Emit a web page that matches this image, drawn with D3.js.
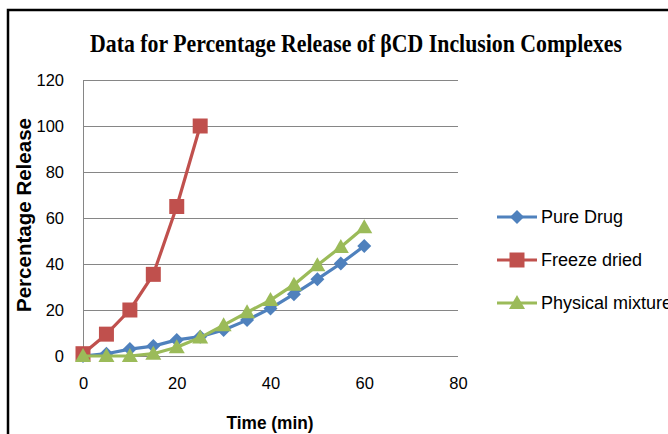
<!DOCTYPE html>
<html>
<head>
<meta charset="utf-8">
<script src="https://cdn.jsdelivr.net/npm/d3@7"></script>
<style>
  html, body { margin: 0; padding: 0; background: #fff; }
  svg { display: block; }
</style>
</head>
<body>
<div id="chart"></div>
<script>
const times = [0, 5, 10, 15, 20, 25, 30, 35, 40, 45, 50, 55, 60];
const pureDrug = [0, 1, 3, 4.3, 7, 8.4, 11.3, 15.6, 20.7, 26.9, 33.4, 40.2, 47.8];
const freezeDried = [1, 9.5, 20, 35.5, 65, 100];
const physicalMixture = [0, 0, 0, 1, 3.8, 8, 13.4, 19, 24.3, 31, 39.5, 47.4, 56];
const seriesNames = ["Pure Drug", "Freeze dried", "Physical mixture"];
const xTicks = [0, 20, 40, 60, 80];
const yTicks = [0, 20, 40, 60, 80, 100, 120];
const titleText = "Data for Percentage Release of \u03B2CD Inclusion Complexes";
const xTitle = "Time (min)";
const yTitle = "Percentage Release";

const W = 668, H = 434;
const svg = d3.select("#chart").append("svg").attr("width", W).attr("height", H);

// outer frame
svg.append("rect").attr("x", 8).attr("y", 10).attr("width", 800).attr("height", 600)
  .attr("fill", "none").attr("stroke", "#000").attr("stroke-width", 2.5);

const x = d3.scaleLinear().domain([0, 80]).range([83, 458]);
const y = d3.scaleLinear().domain([0, 120]).range([356, 80]);

// title
svg.append("text").attr("x", 356).attr("y", 52).attr("text-anchor", "middle")
  .attr("font-family", "Liberation Serif").attr("font-weight", "bold").attr("font-size", 25)
  .attr("textLength", 532).attr("lengthAdjust", "spacingAndGlyphs")
  .attr("fill", "#000").text(titleText);

// gridlines
svg.append("g").selectAll("line").data(yTicks).join("line")
  .attr("x1", x(0)).attr("x2", x(80))
  .attr("y1", d => Math.round(y(d)) + 0.5).attr("y2", d => Math.round(y(d)) + 0.5)
  .attr("stroke", "#868686").attr("stroke-width", 1);

// y axis line
svg.append("line").attr("x1", x(0) + 0.5).attr("x2", x(0) + 0.5).attr("y1", y(120)).attr("y2", y(0) + 1)
  .attr("stroke", "#868686").attr("stroke-width", 1);

// y tick labels
const yAxis = d3.axisLeft(y).tickValues(yTicks).tickSize(0).tickPadding(0);
const gy = svg.append("g").attr("transform", "translate(64,0)").call(yAxis);
gy.select(".domain").remove();
gy.selectAll("text").attr("font-family", "Liberation Sans").attr("font-size", 16.5).attr("fill", "#000")
  .attr("dy", "0.36em").attr("x", 0);

// x tick labels
const xAxis = d3.axisBottom(x).tickValues(xTicks).tickSize(0).tickPadding(0);
const gx = svg.append("g").attr("transform", "translate(0,383)").call(xAxis);
gx.select(".domain").remove();
gx.selectAll("text").attr("font-family", "Liberation Sans").attr("font-size", 16.5).attr("fill", "#000")
  .attr("dy", "0.36em").attr("y", 0);

// axis titles
svg.append("text").attr("x", 270).attr("y", 429).attr("text-anchor", "middle")
  .attr("font-family", "Liberation Sans").attr("font-weight", "bold").attr("font-size", 18)
  .attr("textLength", 87).attr("lengthAdjust", "spacingAndGlyphs").text(xTitle);
svg.append("text").attr("transform", "translate(31,215) rotate(-90)").attr("text-anchor", "middle")
  .attr("font-family", "Liberation Sans").attr("font-weight", "bold").attr("font-size", 21)
  .attr("textLength", 194).attr("lengthAdjust", "spacingAndGlyphs").text(yTitle);

const colors = ["#4F81BD", "#C0504D", "#9BBB59"];
const series = [
  { name: seriesNames[0], values: pureDrug, color: colors[0], shape: "diamond" },
  { name: seriesNames[1], values: freezeDried, color: colors[1], shape: "square" },
  { name: seriesNames[2], values: physicalMixture, color: colors[2], shape: "triangle" }
];

function markerPath(shape) {
  if (shape === "diamond") return "M0,-7L7,0L0,7L-7,0Z";
  if (shape === "square") return "M-7.5,-7.5H7.5V7.5H-7.5Z";
  return "M0,-8L8,6L-8,6Z";
}

const line = d3.line().x(d => x(d[0])).y(d => y(d[1]));

series.forEach(s => {
  const pts = s.values.map((v, i) => [times[i], v]);
  const g = svg.append("g");
  g.append("path").attr("d", line(pts)).attr("fill", "none").attr("stroke", s.color)
    .attr("stroke-width", 3.2).attr("stroke-linejoin", "round");
  g.selectAll("path.m").data(pts).join("path").attr("class", "m")
    .attr("transform", d => `translate(${x(d[0])},${y(d[1])})`)
    .attr("d", markerPath(s.shape)).attr("fill", s.color);
});

// legend
const legY = [217, 260, 303];
series.forEach((s, i) => {
  const g = svg.append("g").attr("transform", `translate(0,${legY[i]})`);
  g.append("line").attr("x1", 497).attr("x2", 537).attr("y1", 0).attr("y2", 0)
    .attr("stroke", s.color).attr("stroke-width", 3.2);
  g.append("path").attr("transform", "translate(517,0)").attr("d", markerPath(s.shape)).attr("fill", s.color);
  g.append("text").attr("x", 541).attr("y", 0).attr("dy", "0.36em")
    .attr("font-family", "Liberation Sans").attr("font-size", 18).attr("fill", "#000").text(s.name);
});
</script>
</body>
</html>
